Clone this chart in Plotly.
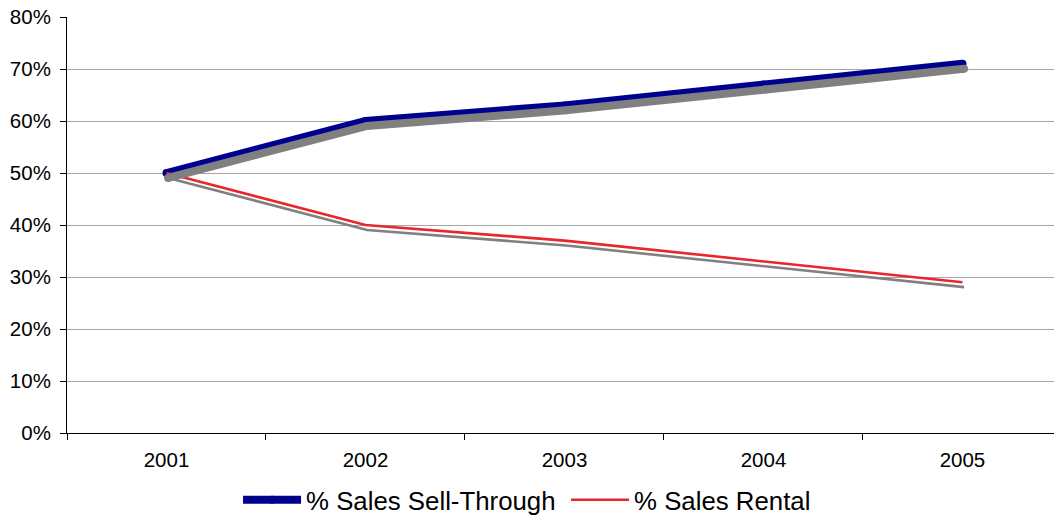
import plotly.graph_objects as go

years = ["2001", "2002", "2003", "2004", "2005"]
sell_through = [0.50, 0.60, 0.63, 0.67, 0.71]
rental = [0.50, 0.40, 0.37, 0.33, 0.29]

BLUE = "#000090"
RED = "#e8262c"
SHADOW = "#808080"
FONT = "Liberation Sans, Arial, sans-serif"

# drop shadow: same data on overlaid axes whose ranges are nudged slightly
SHADOW_DY = 0.0095
SHADOW_DX = 0.008
X_RANGE = [-0.5, 4.46]
Y_RANGE = [0, 0.8]

fig = go.Figure()

# shadows first so the coloured lines sit on top
fig.add_trace(go.Scatter(x=years, y=sell_through, mode="lines+markers",
                         line=dict(color=SHADOW, width=8),
                         marker=dict(color=SHADOW, size=8),
                         xaxis="x2", yaxis="y2", showlegend=False, hoverinfo="skip"))
fig.add_trace(go.Scatter(x=years, y=sell_through, mode="lines+markers",
                         name="% Sales Sell-Through",
                         line=dict(color=BLUE, width=8),
                         marker=dict(color=BLUE, size=8)))
fig.add_trace(go.Scatter(x=years, y=rental, mode="lines",
                         line=dict(color=SHADOW, width=2.6),
                         xaxis="x2", yaxis="y2", showlegend=False, hoverinfo="skip"))
fig.add_trace(go.Scatter(x=years, y=rental, mode="lines",
                         name="% Sales Rental",
                         line=dict(color=RED, width=2.6)))

fig.update_layout(
    width=1054, height=519,
    margin=dict(l=67, r=0, t=17, b=86, autoexpand=False),
    paper_bgcolor="white", plot_bgcolor="white",
    font=dict(family=FONT, color="black", size=20),
    xaxis=dict(type="category", range=X_RANGE, tickson="boundaries",
               ticks="outside", ticklen=6, tickcolor="black",
               showline=True, linecolor="black", linewidth=1,
               showgrid=False, zeroline=False, ticklabelstandoff=8,
               tickfont=dict(size=20.5)),
    yaxis=dict(range=Y_RANGE, dtick=0.1, tickformat=".0%",
               ticks="outside", ticklen=6, tickcolor="black",
               showline=True, linecolor="black", linewidth=1,
               showgrid=True, gridcolor="#a6a6a6", gridwidth=1,
               zeroline=False, ticklabelstandoff=5,
               tickfont=dict(size=20.5)),
    xaxis2=dict(type="category", overlaying="x",
                range=[X_RANGE[0] - SHADOW_DX, X_RANGE[1] - SHADOW_DX],
                visible=False),
    yaxis2=dict(overlaying="y",
                range=[Y_RANGE[0] + SHADOW_DY, Y_RANGE[1] + SHADOW_DY],
                visible=False),
    legend=dict(orientation="h", x=0.1733, xanchor="left", y=-0.161, yanchor="middle",
                font=dict(size=25.8), bgcolor="rgba(0,0,0,0)", itemwidth=58,
                entrywidth=255),
)

fig.write_html("out.html")
